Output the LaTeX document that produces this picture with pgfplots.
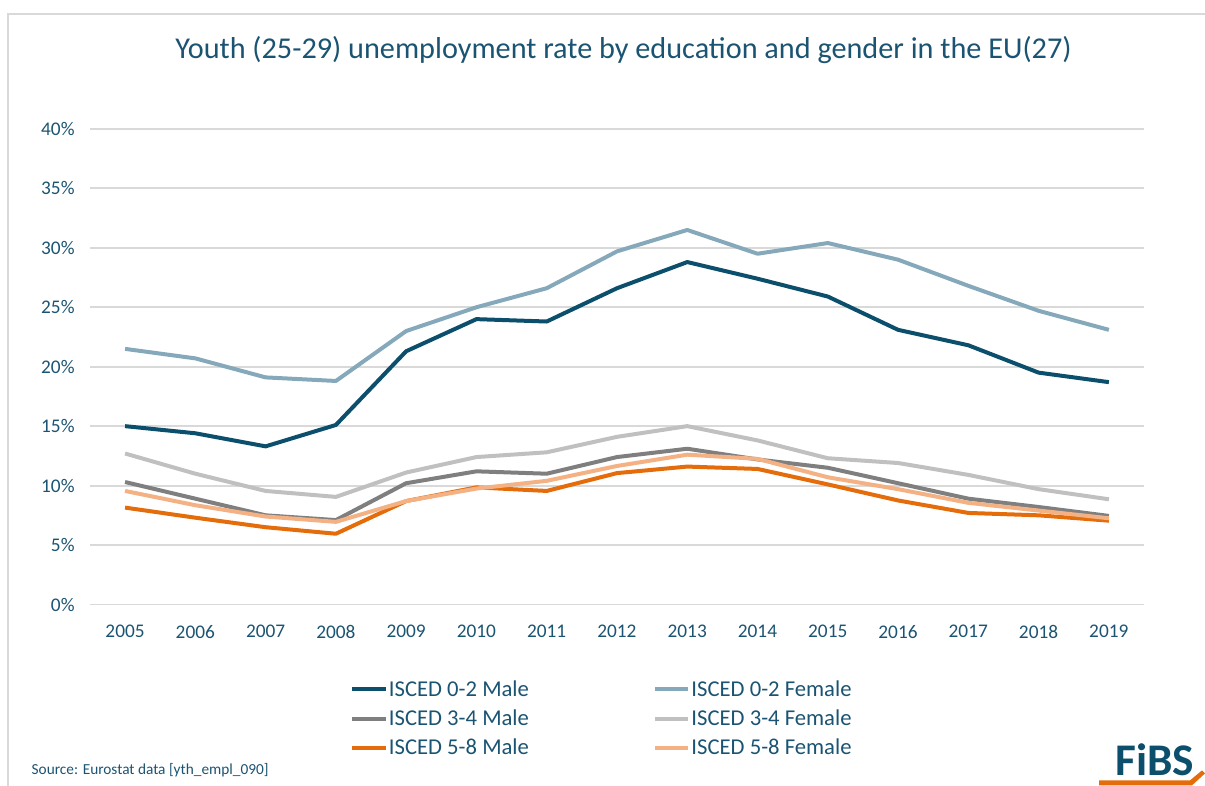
\documentclass[border=0pt]{standalone}
\usepackage{pgfplots}
\pgfplotsset{compat=1.18}
\usepackage{fontspec}
\setmainfont{Carlito}
\definecolor{txt}{HTML}{1B5472}
\definecolor{c02m}{HTML}{0B4F6C}
\definecolor{c02f}{HTML}{85A9BA}
\definecolor{c34m}{HTML}{7F7F7F}
\definecolor{c34f}{HTML}{C0C0C0}
\definecolor{c58m}{HTML}{E46C0A}
\definecolor{c58f}{HTML}{F4B183}
\definecolor{gridc}{HTML}{D9D9D9}
\begin{document}
\begin{tikzpicture}
\begin{scope}[x=0.75pt,y=0.75pt]
\path[use as bounding box] (0,0) rectangle (1205,785);
\draw[gridc, line width=1.5pt] (8,-5) -- (8,771) -- (1210,771);
\node[text=txt, font=\fontsize{22.7}{26}\selectfont] at (624,735) {Youth (25-29) unemployment rate by education and gender in the EU(27)};
\end{scope}
\begin{axis}[
  at={(67.5pt,135pt)}, anchor=south west,
  scale only axis, width=791.25pt, height=357pt,
  xmin=2004.5, xmax=2019.5, ymin=0, ymax=40,
  xtick={2005,...,2019}, ytick={0,5,...,40},
  axis line style={draw=none},
  major tick length=0pt,
  ymajorgrids, grid style={gridc, line width=1.5pt},
  /pgf/number format/assume math mode=true,
  /pgf/number format/1000 sep={},
  yticklabel={\pgfmathprintnumber{\tick}\%},
  ticklabel style={text=txt, font=\fontsize{14.5}{17}\selectfont},
  yticklabel style={xshift=-8pt},
  xticklabel style={yshift=-12pt},
  legend columns=2,
  legend cell align=left,
  legend style={at={(axis description cs:0.243,-0.148)}, anchor=north west, draw=none, fill=none,
    font=\fontsize{17}{20}\selectfont, text=txt, row sep=4.7pt,
    nodes={inner xsep=1pt},
    /tikz/every even column/.append style={column sep=92pt}},
  legend image code/.code={\draw[#1, line width=3pt] (0pt,0pt) -- (25pt,0pt);},
  every axis plot/.append style={line width=3pt, line join=round, no markers},
]
\addplot[c02m] coordinates {(2005,15.0)(2006,14.4)(2007,13.3)(2008,15.1)(2009,21.3)(2010,24.0)(2011,23.8)(2012,26.6)(2013,28.8)(2014,27.4)(2015,25.9)(2016,23.1)(2017,21.8)(2018,19.5)(2019,18.7)};
\addlegendentry{ISCED 0-2 Male}
\addplot[c02f] coordinates {(2005,21.5)(2006,20.7)(2007,19.1)(2008,18.8)(2009,23.0)(2010,25.0)(2011,26.6)(2012,29.7)(2013,31.5)(2014,29.5)(2015,30.4)(2016,29.0)(2017,26.8)(2018,24.7)(2019,23.1)};
\addlegendentry{ISCED 0-2 Female}
\addplot[c34m] coordinates {(2005,10.3)(2006,8.9)(2007,7.5)(2008,7.1)(2009,10.2)(2010,11.2)(2011,11.0)(2012,12.4)(2013,13.1)(2014,12.2)(2015,11.5)(2016,10.2)(2017,8.9)(2018,8.2)(2019,7.45)};
\addlegendentry{ISCED 3-4 Male}
\addplot[c34f] coordinates {(2005,12.7)(2006,11.0)(2007,9.55)(2008,9.05)(2009,11.1)(2010,12.4)(2011,12.8)(2012,14.1)(2013,15.0)(2014,13.8)(2015,12.3)(2016,11.9)(2017,10.9)(2018,9.7)(2019,8.85)};
\addlegendentry{ISCED 3-4 Female}
\addplot[c58m] coordinates {(2005,8.15)(2006,7.3)(2007,6.5)(2008,5.95)(2009,8.7)(2010,9.85)(2011,9.55)(2012,11.05)(2013,11.6)(2014,11.4)(2015,10.1)(2016,8.75)(2017,7.7)(2018,7.5)(2019,7.05)};
\addlegendentry{ISCED 5-8 Male}
\addplot[c58f] coordinates {(2005,9.55)(2006,8.35)(2007,7.4)(2008,6.95)(2009,8.7)(2010,9.75)(2011,10.4)(2012,11.65)(2013,12.6)(2014,12.25)(2015,10.7)(2016,9.7)(2017,8.55)(2018,7.9)(2019,7.25)};
\addlegendentry{ISCED 5-8 Female}
\end{axis}
\begin{scope}[x=0.75pt,y=0.75pt]
\node[anchor=west, text=txt, font=\fontsize{11.5}{13}\selectfont] at (27,14) {Source: Eurostat data [yth\_empl\_090]};
\node[anchor=east, text=c02m, font=\fontsize{34}{38}\bfseries] at (1200,25) {FiBS};
\fill[c58m] (1100,4) -- (1191,4) -- (1203,14) -- (1206,11) -- (1193,-1) -- (1100,-1) -- cycle;
\end{scope}
\end{tikzpicture}
\end{document}
